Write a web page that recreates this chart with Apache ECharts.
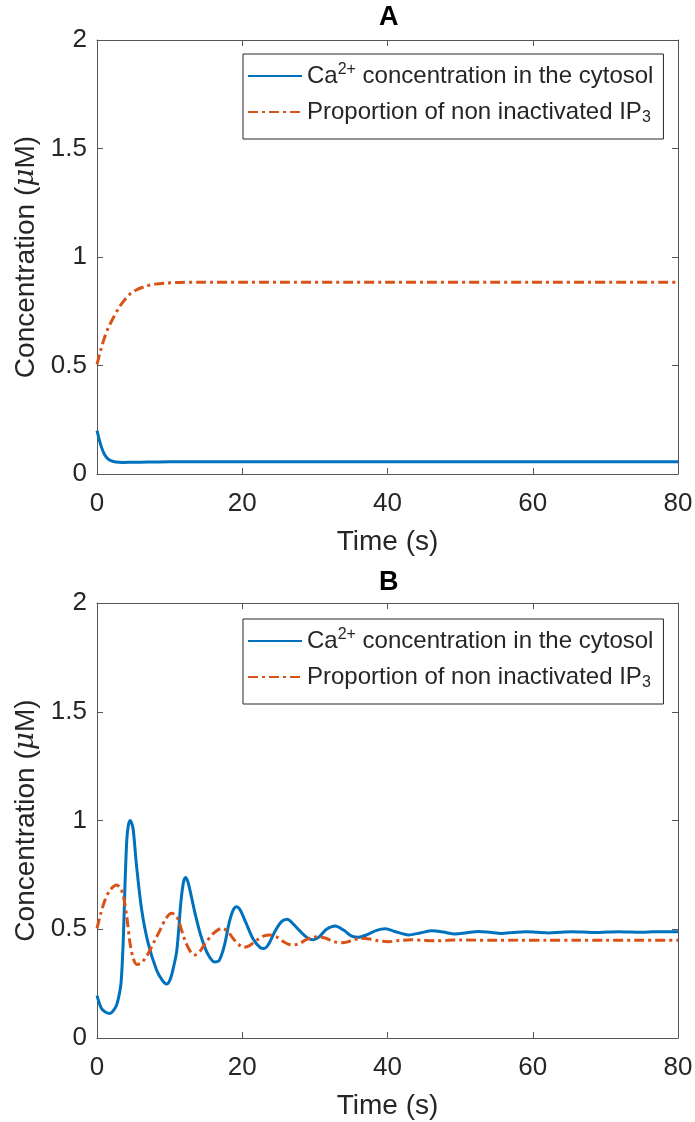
<!DOCTYPE html>
<html>
<head>
<meta charset="utf-8">
<script src="https://cdn.jsdelivr.net/npm/echarts@6/dist/echarts.min.js"></script>
<style>html,body{margin:0;padding:0;background:#fff}#c{width:695px;height:1122px}</style>
</head>
<body>
<div id="c"></div>
<script>
// ---------- DATA ----------
const xTicks = [0, 20, 40, 60, 80];
const yTicks = [0, 0.5, 1, 1.5, 2];
const panelTitles = ['A', 'B'];
const legendNames = ['Ca2+ concentration in the cytosol', 'Proportion of non inactivated IP3'];

// Panel A - Ca2+ (blue)
const tA_ca = [0, 0.3, 0.6, 1.0, 1.5, 2.0, 2.6, 3.5, 5, 7, 10, 20, 40, 60, 80];
const vA_ca = [0.2, 0.16, 0.125, 0.092, 0.07, 0.06, 0.055, 0.053, 0.054, 0.055, 0.056, 0.056, 0.056, 0.056, 0.056];
// Panel A - IP3 (orange)
const tA_ip = [0, 0.5, 1, 1.5, 2.25, 3, 3.75, 4.5, 5.5, 6.8, 8, 9.5, 11.4, 14, 20, 40, 60, 80];
const vA_ip = [0.505, 0.57, 0.625, 0.67, 0.72, 0.765, 0.80, 0.828, 0.85, 0.866, 0.875, 0.88, 0.883, 0.884, 0.884, 0.884, 0.884, 0.884];

// Panel B - Ca2+ (blue)
const tB_ca = [0, 0.6, 1.2, 1.8, 2.3, 2.7, 3.0, 3.3, 3.5, 3.65, 3.85, 4.1, 4.3, 4.55, 4.8, 5.0, 5.45, 6.15, 7.05, 8.2, 9.0, 9.6, 10.05, 10.5, 11.0, 11.55, 11.9, 12.2, 12.5, 12.8, 13.5, 14.3, 15.2, 16.2, 16.8, 17.5, 18.2, 18.7, 19.2, 19.7, 20.5, 21.5, 22.5, 23.0, 23.6, 24.5, 25.4, 26.2, 27.0, 28.0, 29.0, 29.8, 30.6, 31.6, 32.8, 34.0, 35.0, 36.0, 37.2, 38.5, 39.7, 41.0, 42.9, 44.5, 46.1, 47.7, 49.3, 50.9, 52.5, 54.1, 55.7, 57.3, 59.0, 60.6, 62.2, 63.8, 65.4, 67, 68.6, 70.2, 71.8, 73.4, 75, 76.6, 78.2, 80];
const vB_ca = [0.195, 0.137, 0.118, 0.113, 0.128, 0.152, 0.19, 0.25, 0.36, 0.48, 0.70, 0.91, 0.975, 1.0, 0.985, 0.955, 0.79, 0.59, 0.435, 0.313, 0.265, 0.248, 0.267, 0.32, 0.405, 0.625, 0.715, 0.738, 0.72, 0.68, 0.573, 0.47, 0.39, 0.35, 0.355, 0.42, 0.53, 0.585, 0.604, 0.59, 0.53, 0.455, 0.415, 0.412, 0.43, 0.49, 0.535, 0.546, 0.525, 0.49, 0.46, 0.452, 0.465, 0.5, 0.515, 0.495, 0.47, 0.463, 0.475, 0.495, 0.502, 0.49, 0.474, 0.483, 0.493, 0.487, 0.478, 0.484, 0.49, 0.486, 0.481, 0.485, 0.489, 0.486, 0.483, 0.486, 0.489, 0.487, 0.485, 0.487, 0.489, 0.487, 0.486, 0.488, 0.489, 0.489];
// Panel B - IP3 (orange)
const tB_ip = [0, 0.5, 1.1, 1.8, 2.7, 3.2, 3.6, 4.1, 4.55, 5.0, 5.5, 6.0, 6.5, 7.07, 7.9, 8.7, 9.5, 10.3, 10.8, 11.2, 12.1, 13.0, 13.5, 14.2, 14.9, 16, 17.2, 18.0, 18.8, 19.5, 20.2, 21.0, 22.0, 22.9, 23.8, 24.7, 25.6, 26.3, 27.0, 27.9, 28.8, 29.6, 30.5, 31.4, 32.3, 33.0, 33.7, 34.5, 35.4, 36.2, 36.9, 37.8, 38.7, 40.1, 41.6, 43.3, 45, 46.6, 48.3, 50, 52, 55, 58, 62, 66, 70, 75, 80];
const vB_ip = [0.504, 0.57, 0.634, 0.68, 0.703, 0.69, 0.657, 0.558, 0.435, 0.365, 0.338, 0.343, 0.36, 0.39, 0.445, 0.497, 0.55, 0.573, 0.565, 0.543, 0.45, 0.39, 0.382, 0.40, 0.435, 0.48, 0.504, 0.49, 0.455, 0.43, 0.417, 0.425, 0.45, 0.468, 0.474, 0.465, 0.445, 0.432, 0.428, 0.435, 0.452, 0.462, 0.466, 0.46, 0.448, 0.44, 0.438, 0.442, 0.452, 0.457, 0.458, 0.454, 0.447, 0.443, 0.448, 0.452, 0.449, 0.447, 0.449, 0.451, 0.45, 0.449, 0.45, 0.45, 0.449, 0.45, 0.45, 0.45];

// ---------- CHART ----------
const pairs = (t, v) => t.map((x, i) => [x, v[i]]);
const FONT = 'Liberation Sans, Arial, Helvetica, sans-serif';
const TXT = '#262626';
const AX = '#555555';
const BLUE = '#0072BD';
const ORANGE = '#D95319';

const grids = [
  { left: 97, top: 40, width: 581, height: 434 },
  { left: 97, top: 603, width: 581, height: 435 }
];
const legendTops = [54, 619];

function xAxes(gi) {
  const base = {
    gridIndex: gi, type: 'value', min: 0, max: 80, interval: 20,
    axisLine: { show: true, onZero: false, lineStyle: { color: AX, width: 1 } },
    axisTick: { show: true, inside: true, length: 6, lineStyle: { color: AX } },
    splitLine: { show: false }
  };
  return [
    Object.assign({}, base, {
      position: 'bottom',
      axisLabel: { fontSize: 26, color: TXT, fontFamily: FONT, margin: 17,
        formatter: v => xTicks.includes(v) ? String(v) : '' },
      name: 'Time (s)', nameLocation: 'middle', nameGap: 54,
      nameTextStyle: { fontSize: 28, color: TXT, fontFamily: FONT }
    }),
    Object.assign({}, base, { position: 'top', axisLabel: { show: false } })
  ];
}
function yAxes(gi) {
  const base = {
    gridIndex: gi, type: 'value', min: 0, max: 2, interval: 0.5,
    axisLine: { show: true, onZero: false, lineStyle: { color: AX, width: 1 } },
    axisTick: { show: true, inside: true, length: 6, lineStyle: { color: AX } },
    splitLine: { show: false }
  };
  return [
    Object.assign({}, base, {
      position: 'left',
      axisLabel: { fontSize: 26, color: TXT, fontFamily: FONT, margin: 10,
        formatter: v => yTicks.includes(v) ? String(v) : '' },
      name: '{n|Concentration (}{i|μ}{n|M)}', nameLocation: 'middle', nameGap: 56, nameRotate: 90,
      nameTextStyle: { fontSize: 28, color: TXT, fontFamily: FONT,
        rich: { n: { fontSize: 28, color: TXT, fontFamily: FONT },
                i: { fontSize: 28, color: TXT, fontFamily: 'DejaVu Serif, serif', fontStyle: 'italic' } } }
    }),
    Object.assign({}, base, { position: 'right', axisLabel: { show: false } })
  ];
}

const legendRich = {
  n: { fontSize: 24, color: TXT, fontFamily: FONT, lineHeight: 28 },
  sup: { fontSize: 16, color: TXT, fontFamily: FONT, lineHeight: 16, verticalAlign: 'top', padding: [0, 0, 10, 0] },
  sub: { fontSize: 16, color: TXT, fontFamily: FONT, lineHeight: 16, verticalAlign: 'bottom', padding: [20, 0, 0, 0] }
};
function legendFmt(name) {
  if (name === legendNames[0]) return '{n|Ca}{sup|2+}{n| concentration in the cytosol}';
  return '{n|Proportion of non inactivated IP}{sub|3}';
}

const series = [];
const dataSets = [[pairs(tA_ca, vA_ca), pairs(tA_ip, vA_ip)], [pairs(tB_ca, vB_ca), pairs(tB_ip, vB_ip)]];
for (let g = 0; g < 2; g++) {
  series.push({
    name: legendNames[0], type: 'line', xAxisIndex: g * 2, yAxisIndex: g * 2,
    data: dataSets[g][0], showSymbol: false, symbol: 'none', smooth: 0.3,
    lineStyle: { color: BLUE, width: 3 }, itemStyle: { color: BLUE }, silent: true, animation: false
  });
  series.push({
    name: legendNames[1], type: 'line', xAxisIndex: g * 2, yAxisIndex: g * 2,
    data: dataSets[g][1], showSymbol: false, symbol: 'none', smooth: 0.3,
    lineStyle: { color: ORANGE, width: 3, type: [10, 4, 3, 4] }, itemStyle: { color: ORANGE }, silent: true, animation: false
  });
}

const chart = echarts.init(document.getElementById('c'), null, { renderer: 'canvas' });
chart.setOption({
  backgroundColor: '#fff',
  animation: false,
  title: panelTitles.map((t, i) => ({
    text: t, left: 379, top: i === 0 ? 4 : 569, padding: 0,
    textStyle: { fontSize: 27, fontWeight: 'bold', color: '#000', fontFamily: FONT }
  })),
  grid: grids.map(g => Object.assign({ containLabel: false, outerBoundsMode: 'none' }, g)),
  xAxis: [].concat(xAxes(0), xAxes(1)),
  yAxis: [].concat(yAxes(0), yAxes(1)),
  legend: legendTops.map(top => ({
    data: legendNames, orient: 'vertical', left: 243, top: top,
    padding: [8, 10, 13, 4], itemGap: 2, itemWidth: 54, itemHeight: 14,
    backgroundColor: '#fff', borderColor: '#262626', borderWidth: 1, borderRadius: 0,
    selectedMode: false,
    itemStyle: { opacity: 0 },
    formatter: legendFmt,
    textStyle: { fontSize: 24, color: TXT, fontFamily: FONT, rich: legendRich }
  })),
  series: series
});
</script>
</body>
</html>
